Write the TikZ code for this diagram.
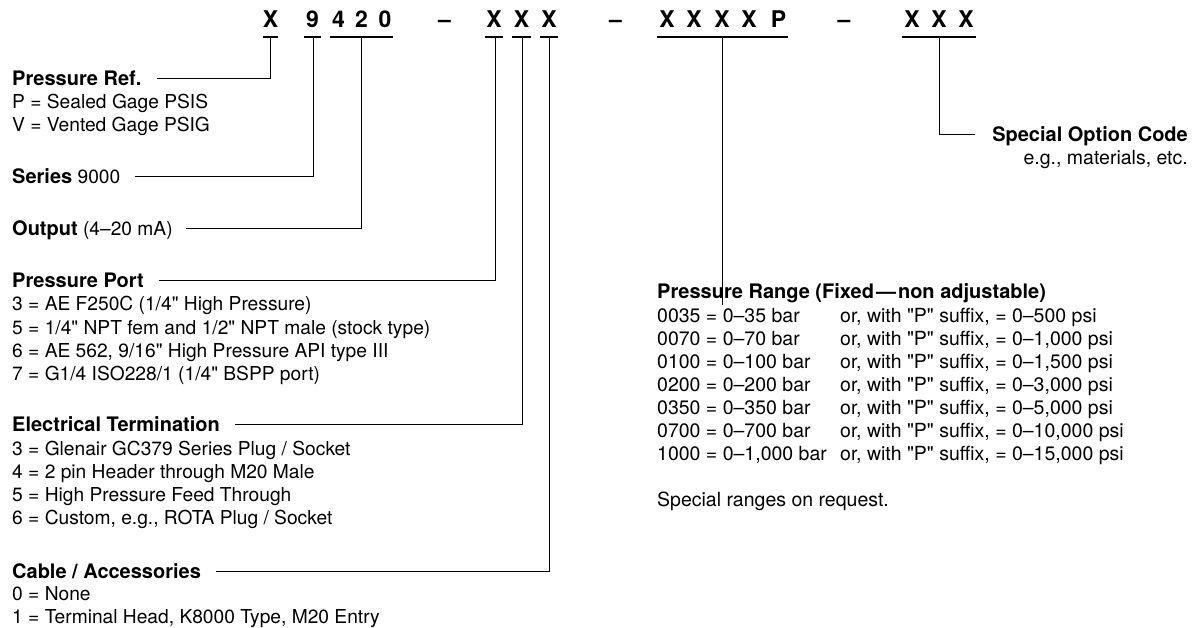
\documentclass[tikz,border=0pt]{standalone}
\usepackage{fontspec}
\setmainfont{TeX Gyre Heros}[Ligatures=TeXOff]
\newcommand\hdg[1]{{\fontsize{20}{23}\selectfont\bfseries #1}}
\begin{document}
\begin{tikzpicture}[x=1pt,y=-1pt,
  txt/.style={anchor=base west, inner sep=0pt, font=\fontsize{19.2}{23}\selectfont},
  txtb/.style={anchor=base west, inner sep=0pt, font=\fontsize{19.5}{23}\selectfont},
  txtr/.style={anchor=base east, inner sep=0pt, font=\fontsize{19.5}{23}\selectfont},
  hd/.style={anchor=base, inner sep=0pt, font=\fontsize{23}{27}\bfseries\selectfont},
  ul/.style={line width=1.6pt},
  conn/.style={line width=1pt}]
\useasboundingbox (0,0) rectangle (1199,627);

% ---------- header code ----------
\foreach \n/\x/\c in {h1/270.5/X, h2/312.5/9, h3/338.5/4, h4/361.5/2, h5/385/0,
  d1/444.5/–, h6/494/X, h7/521.5/X, h8/549/X, d2/615.5/–,
  h9/667/X, h10/694/X, h11/722/X, h12/749/X, h13/778.5/P, d3/844/–,
  h14/912/X, h15/939/X, h16/966/X}
  \node[hd] (\n) at (\x,27) {\c};

% underlines
\draw[ul] (263,37) -- (278,37);
\draw[ul] (304,37) -- (321,37);
\draw[ul] (330,37) -- (393,37);
\draw[ul] (485,37) -- (503,37);
\draw[ul] (512,37) -- (531,37);
\draw[ul] (540,37) -- (558,37);
\draw[ul] (657,37) -- (788,37);
\draw[ul] (902,37) -- (976,37);

\coordinate (uX)   at (270.7,37);
\coordinate (u9)   at (313,37);
\coordinate (u420) at (361,37);
\coordinate (uA)   at (495,37);
\coordinate (uB)   at (522,37);
\coordinate (uC)   at (549,37);
\coordinate (uR)   at (722.7,37);
\coordinate (uS)   at (939,37);

% ---------- left column ----------
\node[txt] (pref) at (12,85) {\hdg{Pressure Ref.}};
\node[txt] (pref1) at (12,108) {P = Sealed Gage PSIS};
\node[txt] (pref2) at (12,131) {V = Vented Gage PSIG};

\node[txt] (ser) at (12,183) {\hdg{Series} 9000};

\node[txt] (out) at (12,235) {\hdg{Output} (4–20 mA)};

\node[txt] (pp) at (12,287) {\hdg{Pressure Port}};
\node[txt] (pp1) at (12,310.5) {3 = AE F250C (1/4" High Pressure)};
\node[txt] (pp2) at (12,334) {5 = 1/4" NPT fem and 1/2" NPT male (stock type)};
\node[txt] (pp3) at (12,357) {6 = AE 562, 9/16" High Pressure API type III};
\node[txt] (pp4) at (12,380) {7 = G1/4 ISO228/1 (1/4" BSPP port)};

\node[txt] (et) at (12,431.5) {\hdg{Electrical Termination}};
\node[txt] (et1) at (12,455) {3 = Glenair GC379 Series Plug / Socket};
\node[txt] (et2) at (12,478) {4 = 2 pin Header through M20 Male};
\node[txt] (et3) at (12,501) {5 = High Pressure Feed Through};
\node[txt] (et4) at (12,524) {6 = Custom, e.g., ROTA Plug / Socket};

\node[txt] (ca) at (12,578) {\hdg{Cable / Accessories}};
\node[txt] (ca1) at (12,600.5) {0 = None};
\node[txt] (ca2) at (12,623) {1 = Terminal Head, K8000 Type, M20 Entry};

% ---------- right column ----------
\node[txtb] (pr) at (657,298) {\hdg{Pressure Range (Fixed\kern2pt—\kern2pt non adjustable)}};
\node[txtb] (pra0) at (657,322) {0035 = 0–35 bar};
\node[txtb] (pra1) at (657,345) {0070 = 0–70 bar};
\node[txtb] (pra2) at (657,368) {0100 = 0–100 bar};
\node[txtb] (pra3) at (657,391) {0200 = 0–200 bar};
\node[txtb] (pra4) at (657,414) {0350 = 0–350 bar};
\node[txtb] (pra5) at (657,437) {0700 = 0–700 bar};
\node[txtb] (pra6) at (657,460) {1000 = 0–1,000 bar};
\node[txtb] (prb0) at (840,322) {or, with "P" suffix, = 0–500 psi};
\node[txtb] (prb1) at (840,345) {or, with "P" suffix, = 0–1,000 psi};
\node[txtb] (prb2) at (840,368) {or, with "P" suffix, = 0–1,500 psi};
\node[txtb] (prb3) at (840,391) {or, with "P" suffix, = 0–3,000 psi};
\node[txtb] (prb4) at (840,414) {or, with "P" suffix, = 0–5,000 psi};
\node[txtb] (prb5) at (840,437) {or, with "P" suffix, = 0–10,000 psi};
\node[txtb] (prb6) at (840,460) {or, with "P" suffix, = 0–15,000 psi};
\node[txtb] (spr) at (657,506) {Special ranges on request.};

\node[txtr] (soc) at (1188,141) {\hdg{Special Option Code}};
\node[txtr] (soc1) at (1188,164) {e.g., materials, etc.};

% ---------- connectors ----------
\draw[conn] ([shift={(15,-7)}]pref.base east) -| (uX);
\draw[conn] ([shift={(15,-7)}]ser.base east) -| (u9);
\draw[conn] ([shift={(13,-7)}]out.base east) -| (u420);
\draw[conn] ([shift={(15,-7)}]pp.base east) -| (uA);
\draw[conn] ([shift={(15,-7)}]et.base east) -| (uB);
\draw[conn] ([shift={(15,-7)}]ca.base east) -| (uC);
\draw[conn] (uR) -- ([yshift=-22pt]pr.north -| uR);
\draw[conn] (uS) |- ([shift={(-17,-7)}]soc.base west);
\end{tikzpicture}
\end{document}
